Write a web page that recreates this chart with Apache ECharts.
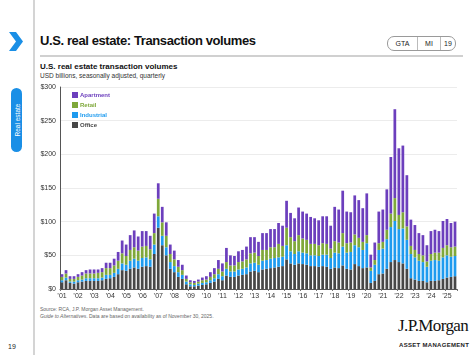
<!DOCTYPE html>
<html>
<head>
<meta charset="utf-8">
<script src="https://cdn.jsdelivr.net/npm/echarts@6/dist/echarts.min.js"></script>
<style>
  html, body { margin:0; padding:0; background:#fff; }
  body { width:474px; height:355px; position:relative; overflow:hidden; font-family:"Liberation Sans", Arial, sans-serif; color:#111; }
  .abs { position:absolute; white-space:nowrap; }
  #chart { position:absolute; left:0; top:0; width:474px; height:355px; }
</style>
</head>
<body>
<div class="abs" style="left:33px;top:0;width:1.5px;height:355px;background:#d4d4d4;"></div>
<svg class="abs" style="left:8px;top:32px;" width="16" height="19" viewBox="0 0 16 19">
  <polygon points="1,0 8,0 15,9.5 8,19 1,19 8,9.5" fill="#1a8fe6"/>
</svg>
<div class="abs" style="left:40px;top:33px;font-size:13px;font-weight:bold;letter-spacing:-0.4px;">U.S. real estate: Transaction volumes</div>
<div class="abs" style="left:387px;top:36px;width:67px;height:13px;border:1px solid #9a9a9a;border-radius:7px;font-size:7px;color:#222;">
  <div class="abs" style="left:29px;top:0;width:1px;height:13px;background:#bbb;"></div>
  <div class="abs" style="left:52px;top:0;width:1px;height:13px;background:#bbb;"></div>
  <div class="abs" style="left:0;width:29px;top:3px;text-align:center;">GTA</div>
  <div class="abs" style="left:30px;width:22px;top:3px;text-align:center;">MI</div>
  <div class="abs" style="left:53px;width:14px;top:3px;text-align:center;">19</div>
</div>
<div class="abs" style="left:40px;top:55px;width:423px;height:2px;background:#d0d0d0;"></div>
<div class="abs" style="left:40px;top:62px;font-size:8px;font-weight:bold;">U.S. real estate transaction volumes</div>
<div class="abs" style="left:40px;top:72px;font-size:6.5px;color:#333;">USD billions, seasonally adjusted, quarterly</div>
<div class="abs" style="left:11px;top:88px;width:11px;height:64px;border-radius:6px;background:#1a8fe6;"></div>
<div class="abs" style="left:16.5px;top:120px;transform:translate(-50%,-50%) rotate(-90deg);font-size:6.5px;color:#fff;">Real estate</div>
<div class="abs" style="left:40px;top:306px;font-size:5px;color:#666;line-height:6.5px;">Source: RCA, J.P. Morgan Asset Management.<br><i>Guide to Alternatives</i>. Data are based on availability as of November 30, 2025.</div>
<div class="abs" style="left:398px;top:316px;font-size:17px;font-family:'Liberation Serif','DejaVu Serif',serif;letter-spacing:-0.6px;color:#111;">J.P.Morgan</div>
<div class="abs" style="left:399px;top:342px;font-size:6px;font-weight:bold;letter-spacing:0.3px;color:#222;">ASSET MANAGEMENT</div>
<div class="abs" style="left:8px;top:343px;font-size:7px;color:#222;">19</div>
<div id="chart"></div>
<script>
const years = ['01','02','03','04','05','06','07','08','09','10','11','12','13','14','15','16','17','18','19','20','21','22','23','24','25'];
const quarterNames = ['Q1','Q2','Q3','Q4'];
const categories = [];
years.forEach(y => quarterNames.forEach(q => { if (categories.length < 99) categories.push('20' + y + q); }));

const yTicks = [0, 50, 100, 150, 200, 250, 300];

const office = [10,13,9,8,10,11,12,12,12,12,13,15,16,18,22,28,27,30,32,30,33,34,33,52,91,65,50,30,25,18,15,7,4,4,5,6,7,9,11,15,13,20,18,18,20,21,22,26,27,25,29,30,31,32,33,34,44,38,36,38,37,36,34,34,33,34,33,30,32,31,35,30,29,37,34,31,32,9,12,22,23,30,40,43,40,38,30,16,14,12,12,10,12,12,13,15,17,18,19];
const industrial = [3,4,2,3,3,3,4,4,4,4,4,6,5,6,8,10,9,12,13,12,13,13,11,14,17,14,12,10,9,7,6,4,3,2,3,3,3,4,5,7,6,10,8,8,9,9,10,12,12,11,13,13,14,14,14,14,21,18,16,18,17,17,16,16,16,17,18,16,22,22,28,24,26,28,28,27,36,18,24,36,37,44,52,58,49,52,43,36,33,30,28,23,30,31,29,32,33,30,30];
const retail = [5,6,4,4,5,6,7,7,7,8,8,10,10,11,12,15,13,16,17,15,17,17,15,17,26,20,17,12,10,8,7,4,3,3,3,4,4,5,6,8,7,10,9,9,11,11,12,15,15,13,16,15,17,16,20,16,26,21,19,24,21,20,17,17,16,17,16,14,17,16,20,14,14,16,14,12,12,5,7,10,10,14,20,34,21,24,20,12,11,10,10,8,10,11,12,14,15,14,14];
const apartment = [4,5,4,4,4,5,5,6,6,5,6,8,8,10,13,19,17,22,25,21,23,22,20,29,23,23,20,14,13,10,8,5,3,3,3,4,5,7,9,13,12,21,15,14,16,17,19,24,23,21,25,25,27,27,31,30,40,36,34,41,40,39,40,38,37,40,41,34,51,49,63,47,45,58,56,50,62,19,26,47,48,60,84,132,99,99,76,39,37,31,30,24,34,34,32,40,39,36,37];

const seriesNames = ['Office','Industrial','Retail','Apartment'];
const seriesColors = ['#474747','#1e9bef','#7fa83a','#6c3fbd'];
const seriesData = [office, industrial, retail, apartment];

const chart = echarts.init(document.getElementById('chart'), null, {renderer:'canvas'});
const font = '"Liberation Sans", Arial, sans-serif';
chart.setOption({
  animation: false,
  backgroundColor: 'transparent',
  grid: { left: 60, top: 87, width: 397, height: 202, containLabel: false },
  legend: {
    orient: 'vertical', left: 67, top: 87, itemWidth: 6, itemHeight: 6, itemGap: 4,
    icon: 'rect', selectedMode: false,
    data: ['Apartment','Retail','Industrial','Office'].map(n => ({
      name: n, textStyle: { color: seriesColors[seriesNames.indexOf(n)] }
    })),
    textStyle: { fontSize: 6, fontWeight: 'bold', fontFamily: font, padding: [0,0,0,-3] }
  },
  xAxis: {
    type: 'category', data: categories,
    axisLine: { lineStyle: { color: '#555', width: 1 } },
    axisTick: { show: true, interval: 3, length: 2, lineStyle: { color: '#777' } },
    axisLabel: { interval: 3, fontSize: 7, color: '#333', margin: 4, fontFamily: font,
      formatter: v => '\u2019' + v.slice(2, 4) }
  },
  yAxis: {
    type: 'value', min: yTicks[0], max: yTicks[yTicks.length - 1], interval: 50,
    axisLine: { show: true, lineStyle: { color: '#555', width: 1 } },
    axisTick: { show: false },
    splitLine: { lineStyle: { color: '#ececec', width: 1 } },
    axisLabel: { fontSize: 7, color: '#333', margin: 4, fontFamily: font, formatter: v => '$' + v }
  },
  series: seriesNames.map((n, i) => ({
    name: n, type: 'bar', stack: 'total', data: seriesData[i],
    barCategoryGap: '32%',
    itemStyle: { color: seriesColors[i] }
  }))
});
</script>
</body>
</html>
